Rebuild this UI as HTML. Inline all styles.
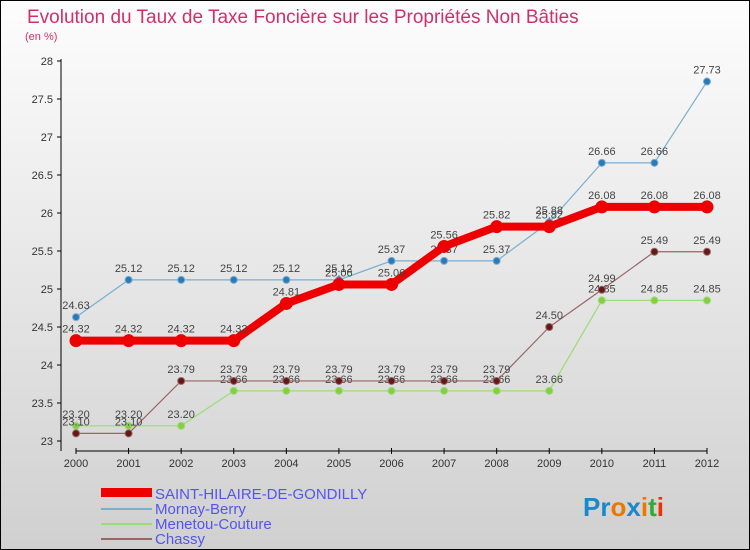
<!DOCTYPE html>
<html><head><meta charset="utf-8"><style>
body{margin:0;}
#wrap{width:748px;height:548px;border:1px solid #000;background:linear-gradient(#fdfdfd,#d0d0d0);position:relative;font-family:"Liberation Sans",sans-serif;overflow:hidden}
svg text{font-family:"Liberation Sans",sans-serif}
</style></head><body>
<div id="wrap">
<svg id="svg" width="748" height="548">
<text x="26" y="22" font-size="19" fill="#d0306a">Evolution du Taux de Taxe Foncière sur les Propriétés Non Bâties</text>
<text x="24" y="39" font-size="11" fill="#d0306a">(en %)</text>
<g id="axes"></g><g id="series"></g>
<g>
<rect x="100" y="487" width="51" height="9" fill="#e00"/>
<text x="154" y="498" font-size="15" fill="#5555ee">SAINT-HILAIRE-DE-GONDILLY</text>
<rect x="100" y="507" width="51" height="2" fill="#7aaed0"/>
<text x="154" y="513" font-size="15" fill="#5555ee">Mornay-Berry</text>
<rect x="100" y="522" width="51" height="2" fill="#99dd77"/>
<text x="154" y="528" font-size="15" fill="#5555ee">Menetou-Couture</text>
<rect x="100" y="537" width="51" height="2" fill="#996666"/>
<text x="154" y="543" font-size="15" fill="#5555ee">Chassy</text>
</g>
<g font-size="26" font-weight="bold">
<text x="582" y="515"><tspan fill="#1a88cc">Pr</tspan><tspan fill="#ee7700">o</tspan><tspan fill="#1a88cc">x</tspan><tspan fill="#ee7700">i</tspan><tspan fill="#33aa33">t</tspan><tspan fill="#ee3300">i</tspan></text>
</g>
</svg></div>
<script>
const years=[2000,2001,2002,2003,2004,2005,2006,2007,2008,2009,2010,2011,2012];
const yTicks=[23,23.5,24,24.5,25,25.5,26,26.5,27,27.5,28];
const saintHilaire=[24.32,24.32,24.32,24.32,24.81,25.06,25.06,25.56,25.82,25.82,26.08,26.08,26.08];
const mornay=[24.63,25.12,25.12,25.12,25.12,25.12,25.37,25.37,25.37,25.88,26.66,26.66,27.73];
const menetou=[23.2,23.2,23.2,23.66,23.66,23.66,23.66,23.66,23.66,23.66,24.85,24.85,24.85];
const chassy=[23.1,23.1,23.79,23.79,23.79,23.79,23.79,23.79,23.79,24.5,24.99,25.49,25.49];
const NS="http://www.w3.org/2000/svg";
const xS=i=>75+i*(631/12);
const yS=v=>440-(v-23)*76;
function mk(t,a,p){const e=document.createElementNS(NS,t);for(const k in a)e.setAttribute(k,a[k]);p.appendChild(e);return e;}
const ax=document.getElementById('axes');
let l=mk('line',{x1:60,y1:58,x2:60,y2:450,stroke:'#000'},ax);


l=mk('line',{x1:75,y1:450,x2:706,y2:450,stroke:'#000'},ax);


yTicks.forEach(v=>{mk('line',{x1:56,y1:yS(v),x2:60,y2:yS(v),stroke:'#000'},ax);
const t=mk('text',{x:52,y:yS(v)+4,'font-size':11,fill:'#333','text-anchor':'end'},ax);t.textContent=v;

});
years.forEach((y,i)=>{mk('line',{x1:xS(i),y1:447,x2:xS(i),y2:453,stroke:'#000'},ax);
const t=mk('text',{x:xS(i),y:466,'font-size':11,fill:'#333','text-anchor':'middle'},ax);t.textContent=y;

});
const sg=document.getElementById('series');
function draw(data,color,w,r,dot,name){
 const g=mk('g',{},sg);
 
 
 mk('polyline',{points:data.map((v,i)=>xS(i)+','+yS(v)).join(' '),fill:'none',stroke:color,'stroke-width':w,'stroke-linejoin':'round'},g);
 data.forEach((v,i)=>{const c=mk('circle',{cx:xS(i),cy:yS(v),r:r,fill:dot,stroke:color,'stroke-width':1},g);
 
 
 const t=mk('text',{x:xS(i),y:yS(v)-8,'font-size':11,fill:'#444','text-anchor':'middle'},g);t.textContent=v.toFixed(2);
 
 });
}
draw(menetou,'#99dd77',1.2,3.5,'#88cc44','series-menetou');
draw(chassy,'#996666',1.2,3.5,'#661818','series-chassy');
draw(mornay,'#7aaed0',1.2,3.5,'#2a7ab8','series-mornay');
draw(saintHilaire,'#ee0000',8,6,'#ee0000','series-saint-hilaire');
</script>
</body></html>
